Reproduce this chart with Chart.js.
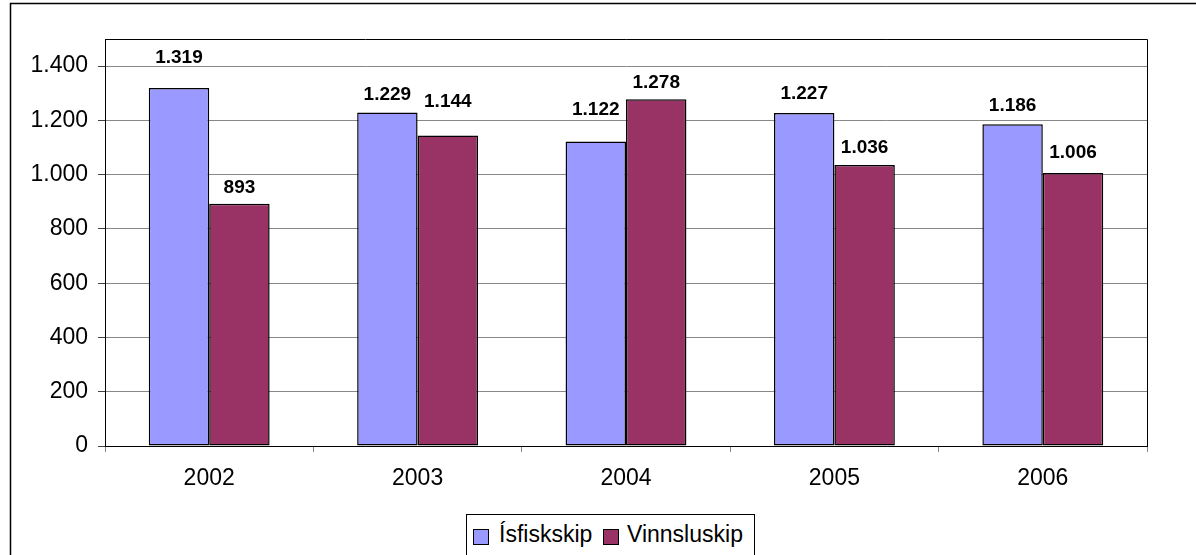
<!DOCTYPE html>
<html lang="is">
<head>
  <meta charset="UTF-8">
  <title>Ísfiskskip og Vinnsluskip</title>
  <script src="https://cdn.jsdelivr.net/npm/chart.js"></script>
  <style>
    body { margin: 0; background: #fff; }
    #wrap { position: relative; width: 1196px; height: 555px; overflow: hidden; }
    #legend {
      position: absolute; left: 466px; top: 514px; width: 287px; height: 60px;
      border: 1px solid #000; background: #fff;
      font-family: 'Liberation Sans', Arial, sans-serif; font-size: 23px; line-height: 23px; color: #000;
    }
    #legend .sw { position: absolute; top: 14px; width: 14px; height: 14px; border: 1px solid #000; }
    #legend .tx { position: absolute; top: 8px; white-space: nowrap; }
  </style>
</head>
<body>
  <div id="wrap">
    <canvas id="chart" width="1196" height="555"></canvas>
    <div id="legend">
      <span class="sw" style="left:6px; background:#9999FF"></span>
      <span class="tx" style="left:32px">Ísfiskskip</span>
      <span class="sw" style="left:136px; background:#993366"></span>
      <span class="tx" style="left:160px">Vinnsluskip</span>
    </div>
  </div>

  <script>
    // --- data ---
    const years = ['2002', '2003', '2004', '2005', '2006'];
    const isfiskskip = [1319, 1229, 1122, 1227, 1186];
    const vinnsluskip = [893, 1144, 1278, 1036, 1006];

    // how far each value label sits above its bar (px), as placed in the original
    const labelLift = [
      [25, 13, 27, 14, 13],
      [11, 29, 11, 12, 15]
    ];

    const FONT = "'Liberation Sans', Arial, sans-serif";

    // Icelandic style thousands separator: 1319 -> 1.319
    function fmt(v) {
      return String(v).replace(/\B(?=(\d{3})+(?!\d))/g, '.');
    }

    // outer frame, plot border and value labels
    const decorPlugin = {
      id: 'decor',
      beforeDraw(chart) {
        const ctx = chart.ctx;
        ctx.save();
        ctx.strokeStyle = '#000';
        ctx.lineWidth = 1.5;
        ctx.strokeRect(10.5, 3.5, 1400, 800);
        ctx.restore();
      },
      afterDraw(chart) {
        const ctx = chart.ctx;
        const a = chart.chartArea;
        ctx.save();
        ctx.strokeStyle = '#000';
        ctx.lineWidth = 1;
        ctx.beginPath();
        ctx.moveTo(a.left, Math.round(a.top) + 0.5);
        ctx.lineTo(Math.round(a.right) + 0.5, Math.round(a.top) + 0.5);
        ctx.lineTo(Math.round(a.right) + 0.5, a.bottom);
        ctx.stroke();

        ctx.font = 'bold 19px ' + FONT;
        ctx.fillStyle = '#000';
        ctx.textAlign = 'center';
        ctx.textBaseline = 'alphabetic';
        chart.data.datasets.forEach((ds, i) => {
          chart.getDatasetMeta(i).data.forEach((bar, j) => {
            ctx.fillText(fmt(ds.data[j]), bar.x, bar.y - labelLift[i][j]);
          });
        });
        ctx.restore();
      }
    };

    new Chart(document.getElementById('chart'), {
      type: 'bar',
      data: {
        labels: years,
        datasets: [
          {
            label: 'Ísfiskskip',
            data: isfiskskip,
            backgroundColor: '#9999FF',
            borderColor: '#000',
            borderWidth: 1.5,
            borderSkipped: false
          },
          {
            label: 'Vinnsluskip',
            data: vinnsluskip,
            backgroundColor: '#993366',
            borderColor: '#000',
            borderWidth: 1.5,
            borderSkipped: false
          }
        ]
      },
      options: {
        responsive: false,
        animation: false,
        barPercentage: 1,
        categoryPercentage: 0.58,
        layout: { padding: { left: 0, top: 39, right: 49, bottom: 59 } },
        plugins: {
          legend: { display: false },
          tooltip: { enabled: false }
        },
        scales: {
          x: {
            afterFit(scale) { scale.height = 50; },
            grid: {
              display: true,
              drawOnChartArea: false,
              offset: true,
              tickLength: 6,
              color: '#888'
            },
            border: { color: '#000', width: 1 },
            ticks: {
              color: '#000',
              padding: 13,
              font: { family: FONT, size: 23 }
            }
          },
          y: {
            min: 0,
            max: 1500,
            afterFit(scale) { scale.width = 105; },
            afterBuildTicks(scale) {
              scale.ticks = scale.ticks.filter(t => t.value <= 1400);
            },
            grid: {
              color: '#888',
              tickColor: '#444',
              tickLength: 7
            },
            border: { color: '#000', width: 1 },
            ticks: {
              stepSize: 200,
              color: '#000',
              padding: 10,
              font: { family: FONT, size: 23 },
              callback: (v) => fmt(v)
            }
          }
        }
      },
      plugins: [decorPlugin]
    });
  </script>
</body>
</html>
